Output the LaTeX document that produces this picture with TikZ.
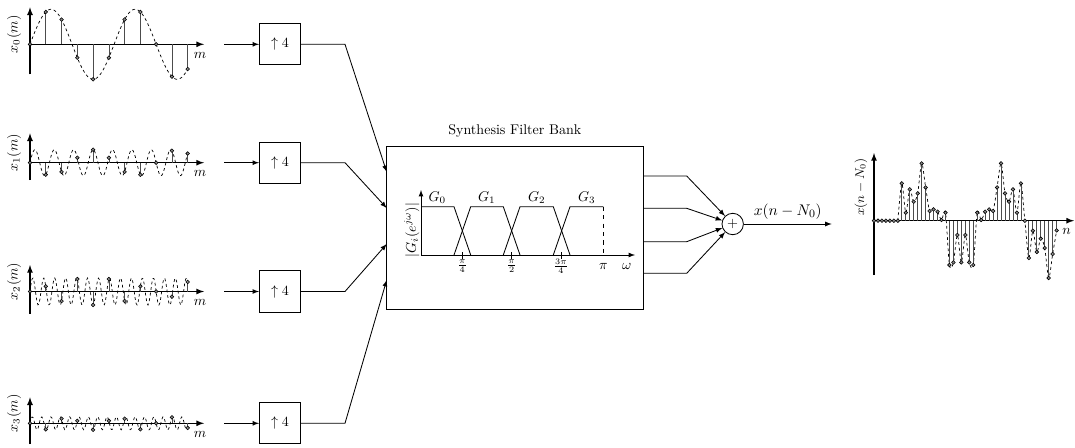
\documentclass[tikz,border=0pt]{standalone}
\usepackage{amsmath}
\usepackage{tikz}
\usetikzlibrary{positioning}

\begin{document}
\begin{tikzpicture}[x=0.025cm, y=-0.025cm, >=latex, line width=0.6pt,
    upbox/.style={draw, minimum size=1.03cm, inner sep=0pt},
    sigaxis/.style={->, line width=0.9pt},
    stem/.style={black!70, line width=0.5pt},
    dot/.style={draw=black, fill=black!45, line width=0.4pt},
    wave/.style={dash pattern=on 2pt off 2pt, line width=0.5pt}]
    \useasboundingbox (0,0) rectangle (1075,447);
    \foreach \k/\ay/\amp/\w/\top/\bot in {0/44.3/35/67.5/37/30, 1/162.7/13/292.5/29.4/17.3,
        2/291.5/13.5/517.5/26.5/22, 3/423.3/6.5/607.5/26/20.7} {
      \draw[sigaxis] (30,{\ay+\bot}) -- (30,{\ay-\top});
      \draw[sigaxis] (30,\ay) -- (204,\ay);
      \node[rotate=90] (lab\k) at (14,{\ay-10}) {$x_\k(m)$};
      \node (m\k) at (200,{\ay+11}) {$m$};
      \draw[wave] plot[domain=0:10, samples=160] ({30+15.77*\x},{\ay-\amp*sin(\w*\x)});
      \foreach \n in {0,...,10} {
        \draw[stem] ({30+15.77*\n},\ay) -- ({30+15.77*\n},{\ay-\amp*sin(\w*\n)});
        \filldraw[dot] ({30+15.77*\n},{\ay-\amp*sin(\w*\n)}) circle[radius=1.3pt];
      }
    }
    \node[draw, minimum width=6.41cm, minimum height=4.075cm] (fb) at (514.8,227.5) {};
    \node[above=2pt of fb] (fbtitle) {Synthesis Filter Bank};
    \foreach \i/\yy/\yf in {1/44.3/172, 2/162.7/208, 3/291.5/244, 4/423.3/280} {
      \coordinate (in\i) at (224,\yy);
      \node[upbox] (up\i) at (280,\yy) {$\uparrow 4$};
      \coordinate (kn\i) at (345,\yy);
      \coordinate (fbin\i) at (386.7,\yf);
      \draw[->] (in\i) -- (up\i);
      \draw[->] (up\i) -- (kn\i) -- (fbin\i);
    }
    \draw[->] (421,255) -- (421,190);
    \draw[->] (421,255) -- (635,255);
    \draw (421,206.7) -- (454,206.7) -- (470.7,255);
    \draw (454,255) -- (470.7,206.7) -- (503.3,206.7) -- (520,255);
    \draw (503.3,255) -- (520,206.7) -- (553.3,206.7) -- (570,255);
    \draw (553.3,255) -- (570,206.7) -- (603.3,206.7);
    \draw[dashed] (603.3,206.7) -- (603.3,255);
    \foreach \t/\lab [count=\j] in {462.3/{\frac{\pi}{4}}, 511.7/{\frac{\pi}{2}}, 561/{\frac{3\pi}{4}}} {
      \draw (\t,252) -- (\t,258.5);
      \node[font=\footnotesize] (tk\j) at (\t,266) {$\lab$};
    }
    \node (pilab) at (603.3,266.7) {$\pi$};
    \node (wlab) at (626.7,266.7) {$\omega$};
    \foreach \g/\gx in {0/437.3, 1/486.7, 2/536.7, 3/586.7}
      \node (g\g) at (\gx,197.3) {$G_\g$};
    \node[rotate=90] (glab) at (411.7,230) {$|G_i(e^{j\omega})|$};
    \node[draw, circle, minimum size=0.535cm, inner sep=0pt] (sum) at (732.7,224) {$+$};
    \foreach \i/\yy in {1/176, 2/208.3, 3/241.7, 4/273.3} {
      \coordinate (fbout\i) at (643,\yy);
      \coordinate (kq\i) at (686.7,\yy);
      \draw[->] (fbout\i) -- (kq\i) -- (sum);
    }
    \coordinate (yout) at (831.7,224);
    \draw[->] (sum) -- (yout) node[midway, above, font=\fontsize{11}{13}\selectfont] (ylab) {$x(n-N_0)$};
    \def\outv{{0,0,0,0,0,0,0,
      37.3,8,31.3,19,27.3,57.3,33.3,9.7,11.3,9,0.7,8,
      -44.3,-41.7,-14.3,-41.7,-14.3,-41.7,-44.3,
      8,0.7,9,11.3,9.7,33.3,57.3,27.3,19,31.3,8,37.3,0,
      -37.3,-10,-31.3,-18,-27.3,-57.3,-33.3,-9.7}}
    \draw[sigaxis] (874,275) -- (874,153);
    \draw[sigaxis] (874,220.7) -- (1074,220.7);
    \node (nlab) at (1066.7,231.7) {$n$};
    \node[rotate=90, font=\small] (outlab) at (861,187) {$x(n-N_0)$};
    \draw[wave, smooth, samples at={6,...,46}, variable=\n] plot ({874+3.97*\n},{220.7-\outv[\n]});
    \foreach \n in {0,...,46} {
      \draw[stem] ({874+3.97*\n},220.7) -- ({874+3.97*\n},{220.7-\outv[\n]});
      \filldraw[dot] ({874+3.97*\n},{220.7-\outv[\n]}) circle[radius=1.3pt];
    }
\end{tikzpicture}
\end{document}
